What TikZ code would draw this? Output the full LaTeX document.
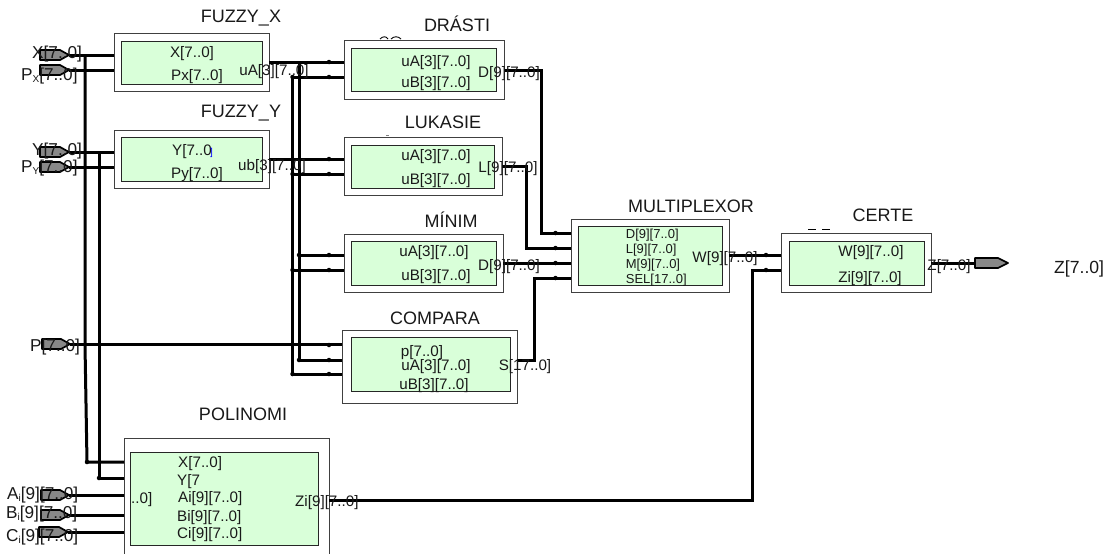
\documentclass[tikz,border=0pt]{standalone}
\usepackage{fontspec}
\setmainfont{Liberation Sans}
\tikzset{
  outerbox/.style={draw=black!75,line width=.9pt,fill=white,inner sep=0pt,outer sep=0pt},
  innerbox/.style={draw=black!85,line width=.9pt,fill=innergreen,inner sep=0pt,outer sep=0pt},
  wire/.style={draw=black,line width=3pt,line cap=butt},
  pinshape/.style={draw=black,line width=1.7pt,fill=pingray,line join=round},
  title/.style={anchor=base,inner sep=0pt,font=\fontsize{18}{20}\selectfont,text=black!90},
  portc/.style={anchor=base,inner sep=0pt,font=\fontsize{15.2}{18}\selectfont,text=black!90},
  portl/.style={anchor=base west,inner sep=0pt,font=\fontsize{15.2}{18}\selectfont,text=black!90},
  muxl/.style={anchor=base west,inner sep=0pt,font=\fontsize{13}{15}\selectfont,text=black!90},
  pinl/.style={anchor=base west,inner sep=0pt,font=\fontsize{17.2}{20}\selectfont,text=black!90},
  dotm/.style={circle,fill=black,inner sep=0pt,minimum size=4.5pt},
}
\definecolor{innergreen}{RGB}{217,255,217}
\definecolor{pingray}{RGB}{136,136,136}
\newcommand{\blockbox}[9]{%
  % name, x0,y0,x1,y1 outer, x0,y0,x1,y1 inner
  \node[outerbox,minimum width={#4-#2},minimum height={#5-#3},anchor=north west] (#1) at (#2,#3) {};
  \node[innerbox,minimum width={#8-#6},minimum height={#9-#7},anchor=north west] (#1i) at (#6,#7) {};
}
\newcommand{\pinR}[4]{% name, x0, x1, ycentre
  \coordinate (#1) at (#3,#4);
  \draw[pinshape] (#2,#4-5) -- (#3-9,#4-5) -- (#3,#4) -- (#3-9,#4+5) -- (#2,#4+5) -- cycle;
}
\begin{document}
\begin{tikzpicture}[x=1pt,y=-1pt]
\useasboundingbox[fill=white] (0,0) rectangle (1112,554);

% blocks
\blockbox{fx}{114}{33}{269}{91}{121}{41}{262}{84}
\blockbox{fy}{114}{130}{269}{188}{121}{137}{262}{181}
\blockbox{dr}{344}{40}{504}{99}{351}{48}{496}{91}
\blockbox{lu}{344}{137}{502}{195}{351}{145}{494}{188}
\blockbox{mi}{344}{234}{503}{292}{351}{241}{496}{285}
\blockbox{co}{342}{330}{517}{403}{351}{337}{510}{391}
\blockbox{mu}{571}{219}{729}{292}{578}{226}{722}{285}
\blockbox{ce}{781}{233}{931}{292}{789}{241}{924}{285}
% POLINOMI: bottom edge falls off the picture
\node[outerbox,minimum width=205,minimum height=122,anchor=north west] (po) at (124,438) {};
\node[innerbox,minimum width=188,minimum height=93,anchor=north west] (poi) at (130,452) {};

% pins
\pinR{pX}{40}{69}{55}
\pinR{pPx}{40}{69}{70}
\pinR{pY}{40}{69}{152}
\pinR{pPy}{40}{69}{167}
\pinR{pP}{42}{70}{344}
\pinR{pA}{41}{69}{495}
\pinR{pB}{41}{69}{515}
\pinR{pC}{39}{68}{532}

% bus junction coordinates
\coordinate (busX) at (85,54);
\coordinate (busXb) at (87,462);
\coordinate (busY) at (99,151);
\coordinate (busYb) at (99,478);
\coordinate (busA) at (299,61);
\coordinate (busAb) at (299,360);
\coordinate (busB) at (292.5,76);
\coordinate (busBb) at (292.5,374);

% input wires
\draw[wire] (pX) -- (pX -| fx.west);
\draw[wire] (pPx) -- (pPx -| fx.west);
\draw[wire] (pY) -- (pY -| fy.west);
\draw[wire] (pPy) -- (pPy -| fy.west);
\draw[wire] (pP) -- (pP -| co.west);
\draw[wire] (pA) -- (pA -| po.west);
\draw[wire] (pB) -- (pB -| po.west);
\draw[wire] (pC) -- (pC -| po.west);
\draw[wire] (busX) -- (85,345) -- (busXb) -- (busXb -| po.west);
\draw[wire] (busY) -- (busYb) -- (busYb -| po.west);

% fuzzy outputs
\coordinate (ua) at (269,62);
\coordinate (ub) at (269,159);
\coordinate (ua2) at (292.5,77);
\draw[wire] (fx.east |- ua) -- (ua -| dr.west);
\draw[wire] (ua2) -- (ua2 -| dr.west);
\draw[wire] (fy.east |- ub) -- (ub -| lu.west);
\coordinate (ub2) at (292.5,174);
\draw[wire] (ub2) -- (ub2 -| lu.west);
\draw[wire] (busA) -- (busAb) -- (busAb -| co.west);
\draw[wire] (busB) -- (busBb) -- (busBb -| co.west);
\coordinate (mA) at (299,255);
\coordinate (mB) at (292.5,270);
\draw[wire] (mA) -- (mA -| mi.west);
\draw[wire] (mB) -- (mB -| mi.west);

% outputs to the multiplexor
\coordinate (drO) at (541.5,70);
\coordinate (muD) at (541.5,233);
\coordinate (luO) at (526,166);
\coordinate (muL) at (526,248);
\coordinate (miO) at (503,263);
\coordinate (muS) at (534,278);
\coordinate (coO) at (534,360);
\draw[wire] (dr.east |- drO) -- (drO) -- (muD) -- (muD -| mu.west);
\draw[wire] (lu.east |- luO) -- (luO) -- (muL) -- (muL -| mu.west);
\draw[wire] (miO) -- (miO -| mu.west);
\draw[wire] (co.east |- coO) -- (coO) -- (muS) -- (muS -| mu.west);

% multiplexor and polynomial into certe
\coordinate (muO) at (729,255);
\coordinate (ceZ) at (752,270);
\coordinate (poO) at (752,500);
\draw[wire] (muO) -- (muO -| ce.west);
\draw[wire] (po.east |- poO) -- (poO) -- (ceZ) -- (ceZ -| ce.west);

% output pin
\coordinate (pZ) at (975,263);
\draw[wire] (ce.east |- pZ) -- (pZ);
\draw[pinshape] (975,258) -- (998,258) -- (1008,263) -- (998,268) -- (975,268) -- cycle;

% small joint marks on the wires
\foreach \p in {(329,62),(329,77),(329,159),(329,174),(329,255),(329,270),(329,345),(329,360),(329,374),
  (555.5,233),(555.5,248),(555.5,263),(555.5,278),
  (766,255),(766,270),(292.5,270),(292.5,374),(299,255),(299,360),(292.5,174),(292.5,77),(99,478),(87,462)}
  \node[dotm] at \p {};

% stray marks above some blocks
\draw[black,line width=.9pt] (380,39) .. controls (383,36) and (386,36) .. (388,39);
\draw[black,line width=.9pt] (391,39) .. controls (394,36) and (398,36) .. (401,39);
\draw[black!50,line width=.7pt] (386,135.5) -- (389,135.5);
\draw[black,line width=.9pt] (808,229) -- (816,229) (822,229) -- (830,229);

% titles
\node[title] (tfx) at (241,22) {FUZZY\_X};
\node[title] (tfy) at (241,117) {FUZZY\_Y};
\node[title] (tdr) at (457,31) {DRÁSTI};
\node[title] (tlu) at (443,128) {LUKASIE};
\node[title] (tmi) at (451,227) {MÍNIM};
\node[title] (tco) at (435,324) {COMPARA};
\node[title] (tpo) at (243,420) {POLINOMI};
\node[title] (tmu) at (691,212) {MULTIPLEXOR};
\node[title] (tce) at (883,221) {CERTE};

% port labels
\node[portc] (l1) at (192,57) {X[7..0]};
\node[portc] (l2) at (197,80) {Px[7..0]};
\node[portc] (l3) at (192,155) {Y[7..0};
\node[anchor=base west,inner sep=0pt,font=\fontsize{10}{12}\selectfont,text=blue] (l3b) at (210,155) {]};
\node[portc] (l4) at (197,178) {Py[7..0]};
\node[portc] (l5) at (274,75) {uA[3][7..0]};
\node[portc] (l6) at (272,170) {ub[3][7..0]};
\node[portc] (l7) at (436,66) {uA[3][7..0]};
\node[portc] (l8) at (436,87) {uB[3][7..0]};
\node[portc] (l9) at (509,77) {D[9][7..0]};
\node[portc] (l10) at (436,160) {uA[3][7..0]};
\node[portc] (l11) at (436,184) {uB[3][7..0]};
\node[portc] (l12) at (508,172) {L[9][7..0]};
\node[portc] (l13) at (434,256) {uA[3][7..0]};
\node[portc] (l14) at (436,280) {uB[3][7..0]};
\node[portc] (l15) at (509,270) {D[9][7..0]};
\node[portc] (l16) at (422,356) {p[7..0]};
\node[portc] (l17) at (436,370) {uA[3][7..0]};
\node[portc] (l18) at (434,389) {uB[3][7..0]};
\node[portc] (l19) at (525,370) {S[17..0]};
\node[muxl] (l20) at (625.7,238) {D[9][7..0]};
\node[muxl] (l21) at (625.7,253) {L[9][7..0]};
\node[muxl] (l22) at (625.7,268) {M[9][7..0]};
\node[muxl] (l23) at (625.7,283) {SEL[17..0]};
\node[portc] (l24) at (725,262) {W[9][7..0]};
\node[portc] (l25) at (871,256) {W[9][7..0]};
\node[portc] (l26) at (870,282) {Zi[9][7..0]};
\node[portc] (l27) at (949,270) {Z[7..0]};
\node[portl] (l28) at (178,467) {X[7..0]};
\node[portl] (l29) at (177,485) {Y[7};
\node[portl] (l30) at (131,503) {..0]};
\node[portl] (l31) at (178,502) {Ai[9][7..0]};
\node[portl] (l32) at (177,521) {Bi[9][7..0]};
\node[portl] (l33) at (177,538) {Ci[9][7..0]};
\node[portl] (l34) at (295,506) {Zi[9][7..0]};

% pin labels
\node[pinl] (n1) at (32,58) {X[7..0]};
\node[pinl] (n2) at (21,80) {P\raisebox{-2.5pt}{\fontsize{10}{12}\selectfont X}[7..0]};
\node[pinl] (n3) at (32,155) {Y[7..0]};
\node[pinl] (n4) at (21,172) {P\raisebox{-2.5pt}{\fontsize{10}{12}\selectfont Y}[7..0]};
\node[pinl] (n5) at (30,351) {P[7..0]};
\node[pinl] (n6) at (7,499) {A\raisebox{-2.5pt}{\fontsize{10}{12}\selectfont i}[9][7..0]};
\node[pinl] (n7) at (6,518) {B\raisebox{-2.5pt}{\fontsize{10}{12}\selectfont i}[9][7..0]};
\node[pinl] (n8) at (6,541) {C\raisebox{-2.5pt}{\fontsize{10}{12}\selectfont i}[9][7..0]};
\node[pinl,font=\fontsize{17.6}{20}\selectfont] (n9) at (1054,273) {Z[7..0]};
\end{tikzpicture}
\end{document}
